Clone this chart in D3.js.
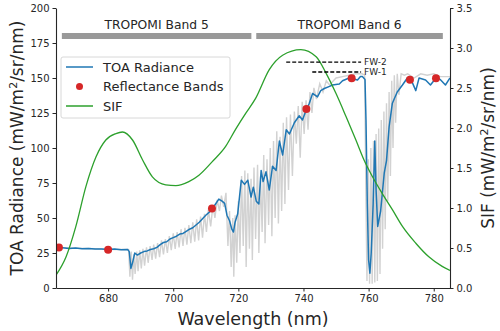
<!DOCTYPE html>
<html>
<head>
<meta charset="utf-8">
<script src="https://cdn.jsdelivr.net/npm/d3@7"></script>
<style>
  body { margin: 0; background: #fff; }
  svg text { font-family: "DejaVu Sans", sans-serif; fill: #262626; }
  .axis path, .axis line { stroke: #262626; }
</style>
</head>
<body>
<div id="chart"></div>
<script>
// TOA radiance (convolved)
var toaWl = [664, 666, 668, 670, 672, 674, 676, 678, 680, 682, 684, 686, 686.5, 687, 687.5, 688.2, 689, 690, 691, 692,
  693, 694, 695, 696, 697, 698, 699, 700, 701, 702, 703, 704, 705, 706, 707, 708, 709, 710, 711, 712,
  713, 714, 715, 715.8, 716.5, 717.3, 718, 718.5, 719, 719.8, 720.9, 721.9, 722.9, 723.9, 724.6, 725.5, 726.3, 727, 727.6, 728.5,
  729.5, 730.5, 731.6, 732.6, 733.6, 734.7, 735.7, 737.2, 738.7, 739.7, 740.8, 741.8, 742.8, 744.3, 745.3, 746.4, 748, 748.9, 751, 752,
  754, 756.6, 757.5, 758.1, 758.9, 759.2, 759.6, 760, 760.4, 760.8, 761.4, 761.9, 762.3, 762.8, 763.7, 764.8, 765.5, 766.3, 767.3, 768.8,
  770.4, 771.9, 773, 774.5, 775.5, 777.5, 779, 780.7, 782, 783.6, 785];
var toaVal = [29, 28.8, 28.3, 28.5, 28, 28.3, 27.8, 27.8, 27.5, 27.8, 27.3, 27.5, 26, 14, 18, 25, 23.5, 25, 26, 26.5,
  27.5, 28, 29, 31, 32.5, 33, 35, 36, 37, 38.5, 39, 40.5, 42, 43, 45, 47, 49.5, 52, 54, 56.5,
  60, 63.5, 62, 60.5, 52, 48, 42, 40, 47, 53, 77, 74, 77, 65, 72, 62, 60, 84, 76, 83,
  70, 87, 84, 105, 95, 113, 110, 118, 123, 120, 127, 132, 139, 136.5, 141, 142.5, 144, 145, 145.7, 148,
  150, 148.6, 151, 151, 149, 120, 60, 20, 10.5, 25, 60, 105, 70, 44, 55, 82, 91, 115, 132, 140,
  145, 150, 149, 141, 150, 148.6, 145, 150, 149, 145, 150];

// high resolution spectrum (grey)
var hiresWl = [664, 670, 676, 682, 686.3, 686.7, 687.1, 687.5, 687.9, 688.3, 688.8, 689.2, 689.7, 690.2, 690.7, 691.2, 691.8, 692.3, 692.9, 693.5,
  694, 694.6, 695.2, 695.8, 696.4, 697, 697.6, 698.2, 698.8, 699.4, 700, 700.6, 701.2, 701.8, 702.4, 703, 703.6, 704.2, 704.8, 705.4,
  706, 706.6, 707.2, 707.8, 708.4, 709, 709.6, 710.2, 710.8, 711.5, 712.2, 712.8, 713.5, 714.2, 714.8, 715.5, 716.2, 716.8, 717.3, 717.8,
  718.3, 718.6, 719, 719.5, 720, 720.5, 721, 721.5, 722, 722.4, 722.9, 723.4, 723.9, 724.3, 724.8, 725.3, 725.9, 726.3, 726.8, 727.3,
  727.8, 728.2, 728.8, 729.3, 729.8, 730.3, 730.8, 731.3, 731.8, 732.3, 732.8, 733.3, 733.8, 734.3, 734.8, 735.4, 736, 736.6, 737.2, 737.8,
  738.4, 739, 739.6, 740.2, 740.8, 741.4, 742, 742.6, 743.2, 744, 745, 746, 747, 748, 750, 752, 754, 756, 758, 758.8,
  759.2, 759.5, 759.9, 760.3, 760.7, 761.1, 761.5, 761.9, 762.3, 762.7, 763.1, 763.5, 763.9, 764.3, 764.7, 765.1, 765.5, 765.9, 766.3, 766.7,
  767.1, 767.5, 767.9, 768.3, 768.8, 769.3, 770, 771, 772, 774, 776, 778, 780, 782, 785];
var hiresVal = [29, 28.5, 28, 27.5, 27.5, 8, 26, 6, 24, 10, 26, 12, 27, 14, 28, 16, 29, 18, 30, 20,
  31, 21, 32, 22, 34, 24, 35, 25, 37, 27, 39, 28, 40, 29, 42, 30, 43, 31, 45, 32,
  47, 33, 49, 34, 51, 36, 53, 40, 56, 44, 59, 50, 63, 55, 66, 58, 68, 30, 55, 15,
  50, 8, 52, 18, 62, 25, 80, 30, 84, 15, 82, 28, 78, 20, 86, 35, 88, 25, 80, 40,
  95, 32, 92, 45, 100, 37, 105, 50, 112, 46, 108, 55, 118, 60, 122, 70, 124, 80, 126, 103,
  130, 93, 133, 110, 134, 113, 140, 125, 143, 135, 146, 140, 148, 145, 150, 151, 152, 153, 153, 152,
  60, 5, 92, 3, 100, 3, 105, 4, 110, 5, 114, 10, 120, 28, 126, 42, 132, 62, 140, 80,
  148, 100, 152, 118, 153, 138, 153, 152, 153, 150, 153, 152, 153, 151, 151];

// SIF spectrum
var sifWl = [664, 667.1, 670.1, 673.2, 676.3, 679.3, 682.4, 684.4, 687.5, 690.6, 693.6, 697.7, 700.8, 704.8, 707.9, 712, 716.1, 719.1, 722.2, 725.3,
  729.5, 733.6, 739.2, 743.9, 747, 750, 753.1, 756.1, 758.6, 761.2, 764.2, 767.3, 770.4, 774.5, 778.5, 782.6, 785];
var sifVal = [0.16, 0.39, 0.77, 1.27, 1.64, 1.85, 1.93, 1.95, 1.85, 1.6, 1.39, 1.29, 1.28, 1.33, 1.41, 1.58, 1.77, 1.98, 2.18, 2.37,
  2.73, 2.91, 2.98, 2.89, 2.68, 2.43, 2.14, 1.85, 1.6, 1.39, 1.18, 0.98, 0.77, 0.56, 0.39, 0.27, 0.22];

// reflectance bands
var reflWl = [664.9, 680, 711.9, 740.9, 754.8, 772.7, 780.7];
var reflVal = [29, 27.4, 56.7, 127.9, 149.8, 148.8, 149.8];

// TROPOMI bands
var bandNames = ["TROPOMI Band 5", "TROPOMI Band 6"];
var bandStart = [665.8, 725.5];
var bandEnd = [724, 782.8];
var bandLevel = 180;
var bandLabelLevel = 188;

// fitting windows
var fwNames = ["FW-2", "FW-1"];
var fwStart = [734.7, 742.7];
var fwEnd = [757.7, 757.7];
var fwLevel = [161.4, 154.3];

var xTicks = [680, 700, 720, 740, 760, 780];
var yTicks = [0, 25, 50, 75, 100, 125, 150, 175, 200];
var sifTicks = [0, 0.5, 1.0, 1.5, 2.0, 2.5, 3.0, 3.5];

var margin = {top: 8, left: 56, right: 50, bottom: 43};
var width = 500;
var height = 331;

var svg = d3.select('#chart')
  .append('svg')
  .attr('width', width)
  .attr('height', height);

var g = svg.append('g')
  .attr('transform', 'translate(' + margin.left + ',' + margin.top + ')');

width = width - margin.left - margin.right;
height = height - margin.top - margin.bottom;

var x = d3.scaleLinear().domain([664, 785]).range([0, width]);
var y = d3.scaleLinear().domain([0, 200]).range([height, 0]);
var ySif = d3.scaleLinear().domain([0, 3.5]).range([height, 0]);

g.append('clipPath').attr('id', 'clip')
  .append('rect').attr('width', width).attr('height', height);

var plot = g.append('g').attr('clip-path', 'url(#clip)');

var line = d3.line()
  .x(function(d) { return x(d[0]); })
  .y(function(d) { return y(d[1]); });

var sifLine = d3.line()
  .curve(d3.curveMonotoneX)
  .x(function(d) { return x(d[0]); })
  .y(function(d) { return ySif(d[1]); });

plot.append('path')
  .datum(d3.zip(hiresWl, hiresVal))
  .attr('fill', 'none')
  .attr('stroke', '#d2d2d2')
  .attr('stroke-width', 1.4)
  .attr('d', line);

plot.append('path')
  .datum(d3.zip(toaWl, toaVal))
  .attr('fill', 'none')
  .attr('stroke', '#1f77b4')
  .attr('stroke-width', 1.5)
  .attr('stroke-linejoin', 'round')
  .attr('d', line);

plot.append('path')
  .datum(d3.zip(sifWl, sifVal))
  .attr('fill', 'none')
  .attr('stroke', '#2ca02c')
  .attr('stroke-width', 1.3)
  .attr('d', sifLine);

plot.selectAll('.refl')
  .data(d3.zip(reflWl, reflVal))
  .enter().append('circle')
  .attr('class', 'refl')
  .attr('cx', function(d) { return x(d[0]); })
  .attr('cy', function(d) { return y(d[1]); })
  .attr('r', 4)
  .attr('fill', '#d62728');

// band bars
var bands = d3.zip(bandNames, bandStart, bandEnd);
g.selectAll('.band')
  .data(bands)
  .enter().append('line')
  .attr('x1', function(d) { return x(d[1]); })
  .attr('x2', function(d) { return x(d[2]); })
  .attr('y1', y(bandLevel))
  .attr('y2', y(bandLevel))
  .attr('stroke', '#999999')
  .attr('stroke-width', 6);

g.selectAll('.bandLabel')
  .data(bands)
  .enter().append('text')
  .attr('x', function(d) { return x((d[1] + d[2]) / 2); })
  .attr('y', y(bandLabelLevel))
  .attr('text-anchor', 'middle')
  .attr('dy', '0.35em')
  .style('font-size', '12.3px')
  .text(function(d) { return d[0]; });

// fitting windows
var fws = d3.zip(fwNames, fwStart, fwEnd, fwLevel);
g.selectAll('.fw')
  .data(fws)
  .enter().append('line')
  .attr('x1', function(d) { return x(d[1]); })
  .attr('x2', function(d) { return x(d[2]); })
  .attr('y1', function(d) { return y(d[3]); })
  .attr('y2', function(d) { return y(d[3]); })
  .attr('stroke', '#000')
  .attr('stroke-width', 1.3)
  .attr('stroke-dasharray', '4,2');

g.selectAll('.fwLabel')
  .data(fws)
  .enter().append('text')
  .attr('x', function(d) { return x(d[2]) + 3; })
  .attr('y', function(d) { return y(d[3]); })
  .attr('dy', '0.35em')
  .style('font-size', '9px')
  .text(function(d) { return d[0]; });

// axes
g.append('g')
  .attr('class', 'axis')
  .attr('transform', 'translate(0,' + height + ')')
  .call(d3.axisBottom(x).tickValues(xTicks).tickSize(3.5).tickSizeOuter(0));

g.append('g')
  .attr('class', 'axis')
  .call(d3.axisLeft(y).tickValues(yTicks).tickSize(3.5).tickSizeOuter(0));

g.append('g')
  .attr('class', 'axis')
  .attr('transform', 'translate(' + width + ',0)')
  .call(d3.axisRight(ySif).tickValues(sifTicks).tickFormat(d3.format('.1f')).tickSize(3.5).tickSizeOuter(0));

g.selectAll('.axis text').style('font-size', '10px');
g.selectAll('.axis path').attr('stroke-width', 1.1);

// labels
g.append('text')
  .attr('x', width / 2)
  .attr('y', height + 37)
  .attr('text-anchor', 'middle')
  .style('font-size', '17.5px')
  .text('Wavelength (nm)');

g.append('text')
  .attr('transform', 'translate(' + (-33) + ',' + (height / 2) + ') rotate(-90)')
  .attr('text-anchor', 'middle')
  .style('font-size', '17px')
  .html('TOA Radiance (mW/m<tspan dy="-6" font-size="11px">2</tspan><tspan dy="6">/sr/nm)</tspan>');

g.append('text')
  .attr('transform', 'translate(' + (width + 44) + ',' + (height / 2) + ') rotate(-90)')
  .attr('text-anchor', 'middle')
  .style('font-size', '17px')
  .html('SIF (mW/m<tspan dy="-6" font-size="11px">2</tspan><tspan dy="6">/sr/nm)</tspan>');

// legend
var legend = g.append('g')
  .attr('transform', 'translate(' + (61 - margin.left) + ',' + (57 - margin.top) + ')');

legend.append('rect')
  .attr('width', 169)
  .attr('height', 61)
  .attr('rx', 2)
  .attr('fill', '#fff')
  .attr('fill-opacity', 0.8)
  .attr('stroke', '#d8d8d8');

var legendItems = [
  {label: 'TOA Radiance', type: 'line', color: '#1f77b4'},
  {label: 'Reflectance Bands', type: 'dot', color: '#d62728'},
  {label: 'SIF', type: 'line', color: '#2ca02c'}
];

var items = legend.selectAll('.item')
  .data(legendItems)
  .enter().append('g')
  .attr('transform', function(d, i) { return 'translate(0,' + (10 + i * 19.5) + ')'; });

items.filter(function(d) { return d.type === 'line'; })
  .append('line')
  .attr('x1', 5).attr('x2', 32)
  .attr('stroke', function(d) { return d.color; })
  .attr('stroke-width', 1.5);

items.filter(function(d) { return d.type === 'dot'; })
  .append('circle')
  .attr('cx', 18.5)
  .attr('r', 3.5)
  .attr('fill', function(d) { return d.color; });

items.append('text')
  .attr('x', 42)
  .attr('dy', '0.35em')
  .style('font-size', '13px')
  .text(function(d) { return d.label; });
</script>
</body>
</html>
